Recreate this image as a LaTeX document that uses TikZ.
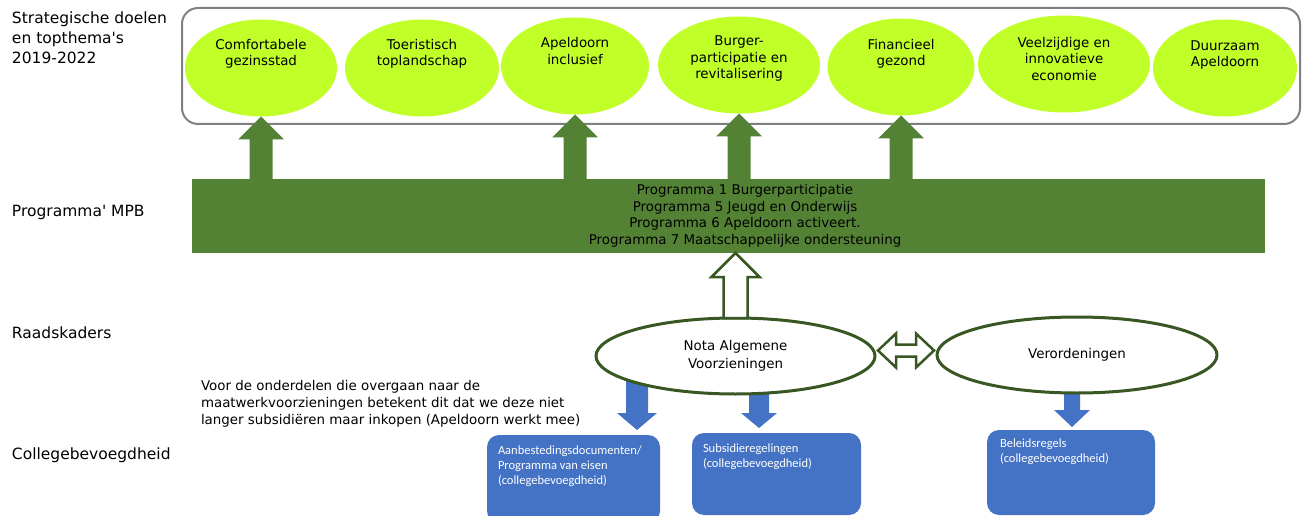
\documentclass[tikz,border=0pt]{standalone}
\usepackage{fontspec}
\setmainfont{DejaVu Sans}
\newfontfamily\calfont{Carlito}
\usetikzlibrary{shapes.geometric,calc,positioning,backgrounds}

\definecolor{limegoal}{RGB}{192,255,40}
\definecolor{progband}{RGB}{84,130,53}
\definecolor{ringgreen}{RGB}{56,87,35}
\definecolor{collblue}{RGB}{68,114,196}
\definecolor{framegray}{RGB}{128,128,128}

% block arrow: style, from, tip, half shaft, half head, head length
\newcommand{\blockarrow}[6]{%
  \path[#1] let \p1=(#2), \p2=(#3) in
    ({\x2-#4},\y1) -- ({\x2-#4},{\y2-(#6)}) -- ({\x2-#5},{\y2-(#6)}) -- (\x2,\y2)
    -- ({\x2+#5},{\y2-(#6)}) -- ({\x2+#4},{\y2-(#6)}) -- ({\x2+#4},\y1) -- cycle}

\begin{document}
\begin{tikzpicture}[x=1pt,y=-1pt,
    every node/.style={inner sep=0pt,outer sep=0pt},
    lbl/.style={font=\fontsize{15.5}{20}\selectfont,align=left,anchor=west},
    goal/.style={ellipse,fill=limegoal,minimum width=#1,minimum height=97},
    goaltxt/.style={font=\fontsize{13.4}{16.5}\selectfont,align=center},
    band/.style={fill=progband,minimum width=1073,minimum height=74},
    ring/.style={ellipse,draw=ringgreen,line width=3,fill=white,
      minimum width=#1,minimum height=76,font=\fontsize{13.4}{18}\selectfont,align=center},
    openarrow/.style={draw=ringgreen,line width=2.5,fill=white},
    collbox/.style={rectangle,rounded corners=12,fill=collblue,minimum width=#1},
    boxtxt/.style={font=\calfont\fontsize{12.5}{15}\selectfont,text=white,align=left,anchor=north west},
    notetxt/.style={font=\fontsize{13.4}{17}\selectfont,align=left,anchor=west}
  ]
  \useasboundingbox (0,0) rectangle (1304,516);

  % levels
  \node[lbl] (l1) at (12,38) {Strategische doelen\\en topthema\textquotesingle s\\2019-2022};
  \node[lbl] (l2) at (12,212) {Programma\textquotesingle{} MPB};
  \node[lbl] (l3) at (12,333) {Raadskaders};
  \node[lbl] (l4) at (12,455) {Collegebevoegdheid};

  % doelen
  \draw[framegray,line width=2,rounded corners=16] (182,8) rectangle (1300,124);
  \node[goal=152] (g1) at (261,68) {};
  \node[goal=154] (g2) at (422,68) {};
  \node[goal=148] (g3) at (575,66) {};
  \node[goal=162] (g4) at (739,65) {};
  \node[goal=147] (g5) at (901,67) {};
  \node[goal=172] (g6) at (1064,64) {};
  \node[goal=144] (g7) at (1225,68) {};
  \node[goaltxt] (t1) at (261,54) {Comfortabele\\gezinsstad};
  \node[goaltxt] (t2) at (422,54) {Toeristisch\\toplandschap};
  \node[goaltxt] (t3) at (575,51) {Apeldoorn\\inclusief};
  \node[goaltxt] (t4) at (739,59) {Burger-\\participatie en\\revitalisering};
  \node[goaltxt] (t5) at (901,54) {Financieel\\gezond};
  \node[goaltxt] (t6) at (1064,59) {Veelzijdige en\\innovatieve\\economie};
  \node[goaltxt] (t7) at (1225,55) {Duurzaam\\Apeldoorn};

  % programma
  \node[band] (band) at (728.5,216) {};
  \node[goaltxt] (bt) at (745,216) {Programma 1 Burgerparticipatie\\Programma 5 Jeugd en Onderwijs\\Programma 6 Apeldoorn activeert.\\Programma 7 Maatschappelijke ondersteuning};
  \foreach \g in {g1,g3,g4,g5}
    \blockarrow{fill=progband}{band.north -| \g.south}{\g.south}{11.5pt}{23pt}{23pt};

  % raadskaders
  \node[ring=279] (nota) at (735.5,356) {Nota Algemene\\Voorzieningen};
  \node[ring=280] (veror) at (1077,355) {Verordeningen};
  \blockarrow{openarrow}{nota.north}{nota.north |- band.south}{12pt}{24pt}{24pt};
  \coordinate (mid) at ($(nota.east)!.5!(veror.west)+(0,-5)$);
  \draw[openarrow] ($(mid)+(-28,0)$) -- ++(18,-17) -- ++(0,11) -- ++(20,0) -- ++(0,-11)
    -- ++(18,17) -- ++(-18,17) -- ++(0,-11) -- ++(-20,0) -- ++(0,11) -- cycle;

  % college
  \node[notetxt] (note) at (201,404) {Voor de onderdelen die overgaan naar de\\maatwerkvoorzieningen betekent dit dat we deze niet\\langer subsidiëren maar inkopen (Apeldoorn werkt mee)};
  \node[collbox=173,minimum height=88] (box1) at (573.5,479) {};
  \node[collbox=169,minimum height=82] (box2) at (776.5,474) {};
  \node[collbox=168,minimum height=85] (box3) at (1071,472.5) {};
  \node[boxtxt] (bx1) at ($(box1.north west)+(11,11)$) {Aanbestedingsdocumenten/\\Programma van eisen\\(collegebevoegdheid)};
  \node[boxtxt] (bx2) at ($(box2.north west)+(11,11)$) {Subsidieregelingen\\(collegebevoegdheid)};
  \node[boxtxt] (bx3) at ($(box3.north west)+(13,9)$) {Beleidsregels\\(collegebevoegdheid)};

  \coordinate (d1) at ($(box1.north west)+(150,-5)$);
  \coordinate (d2) at ($(box2.north west)+(67,-5)$);
  \coordinate (d3) at ($(box3.north west)+(85,-3)$);
  \begin{scope}[on background layer]
    \blockarrow{fill=collblue}{d1 |- nota.center}{d1}{11pt}{20pt}{-17pt};
    \blockarrow{fill=collblue}{d2 |- nota.center}{d2}{10pt}{18pt}{-15pt};
    \blockarrow{fill=collblue}{d3 |- veror.center}{d3}{8pt}{18pt}{-17pt};
  \end{scope}
\end{tikzpicture}
\end{document}
